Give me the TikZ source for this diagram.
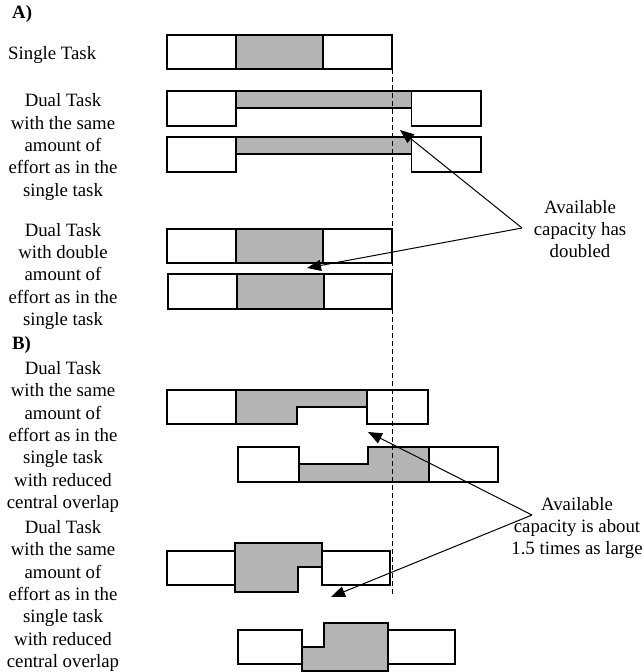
\documentclass[tikz,border=0pt]{standalone}
\usepackage{fontspec}
\setmainfont{Liberation Serif}
\usetikzlibrary{arrows.meta}
\definecolor{barfill}{RGB}{180,180,180}
\begin{document}
\begin{tikzpicture}[x=1pt,y=-1pt,
  outline/.style={draw=black,line width=1.1pt,line join=miter},
  busy/.style={outline,fill=barfill},
  free/.style={outline,fill=white},
  label/.style={font=\fontsize{18.8}{22.3}\selectfont,align=center,inner sep=0pt},
  head/.style={font=\fontsize{18.8}{22.3}\selectfont\bfseries,inner sep=0pt,anchor=west},
  pointer/.style={line width=1pt,-{Triangle[length=14pt,width=11pt]}},
  limit/.style={line width=1pt,dash pattern=on 5pt off 3pt}]
\useasboundingbox (0,0) rectangle (644,672);

% ---- left-hand captions
\node[head] (hA) at (12,14) {A)};
\node[label,anchor=west] (single) at (8,55) {Single Task};
\node[label] (dualsame) at (63,147) {Dual Task\\with the same\\amount of\\effort as in the\\single task};
\node[label] (dualdouble) at (63,276.5) {Dual Task\\with double\\amount of\\effort as in the\\single task};
\node[head] (hB) at (12,345) {B)};
\node[label] (reducedone) at (63,437) {Dual Task\\with the same\\amount of\\effort as in the\\single task\\with reduced\\central overlap};
\node[label] (reducedtwo) at (63,596) {Dual Task\\with the same\\amount of\\effort as in the\\single task\\with reduced\\central overlap};

% ---- right-hand captions
\node[label] (captwo) at (580,229) {Available\\capacity has\\doubled};
\node[label] (capone) at (577,528) {Available\\capacity is about\\1.5 times as large};

% ---- A) single task
\draw[free] (167,35) rectangle (392,69);
\draw[busy] (236,35) rectangle (323,69);

% ---- A) dual task, same effort
\draw[free] (167,91) rectangle (236,126);
\draw[busy] (236,91) rectangle (411.5,108);
\draw[free] (411.5,91) rectangle (481,126);
\draw[free] (167,137) rectangle (236,172);
\draw[busy] (236,137) rectangle (411.5,154);
\draw[free] (411.5,137) rectangle (481,172);

% ---- A) dual task, double effort
\draw[free] (167,229) rectangle (392,263);
\draw[busy] (236,229) rectangle (323,263);
\draw[free] (168,274) rectangle (392,309);
\draw[busy] (237,274) rectangle (324,309);

% ---- B) reduced central overlap, first pair
\draw[free] (167,390) rectangle (236,424);
\draw[busy] (236,390) -- (367,390) -- (367,407) -- (297,407) -- (297,424) -- (236,424) -- cycle;
\draw[free] (367,390) rectangle (428,424);
\draw[free] (238,447) rectangle (299,482);
\draw[busy] (299,464) -- (368,464) -- (368,447) -- (429,447) -- (429,482) -- (299,482) -- cycle;
\draw[free] (429,447) rectangle (498,482);

% ---- B) reduced central overlap, second pair
\draw[free] (167,551) rectangle (235,585);
\draw[free] (322,551) rectangle (390,585);
\draw[busy] (235,543) -- (322,543) -- (322,567) -- (298,567) -- (298,592) -- (235,592) -- cycle;
\draw[free] (238,630) rectangle (302,664);
\draw[free] (388,630) rectangle (455,664);
\draw[busy] (302,647) -- (324,647) -- (324,623) -- (388,623) -- (388,671) -- (302,671) -- cycle;

% ---- end of the single task
\coordinate (limtop) at (392,69);
\coordinate (limbot) at (392,596);
\draw[limit] (limtop) -- (limbot);

% ---- pointers to the free capacity
\coordinate (jA) at (522,228);
\coordinate (tA1) at (400,130);
\coordinate (tA2) at (307,268);
\coordinate (jB) at (532,515);
\coordinate (tB1) at (368,432);
\coordinate (tB2) at (331,597);
\draw[pointer] (jA) -- (tA1);
\draw[pointer] (jA) -- (tA2);
\draw[pointer] (jB) -- (tB1);
\draw[pointer] (jB) -- (tB2);
\end{tikzpicture}
\end{document}
